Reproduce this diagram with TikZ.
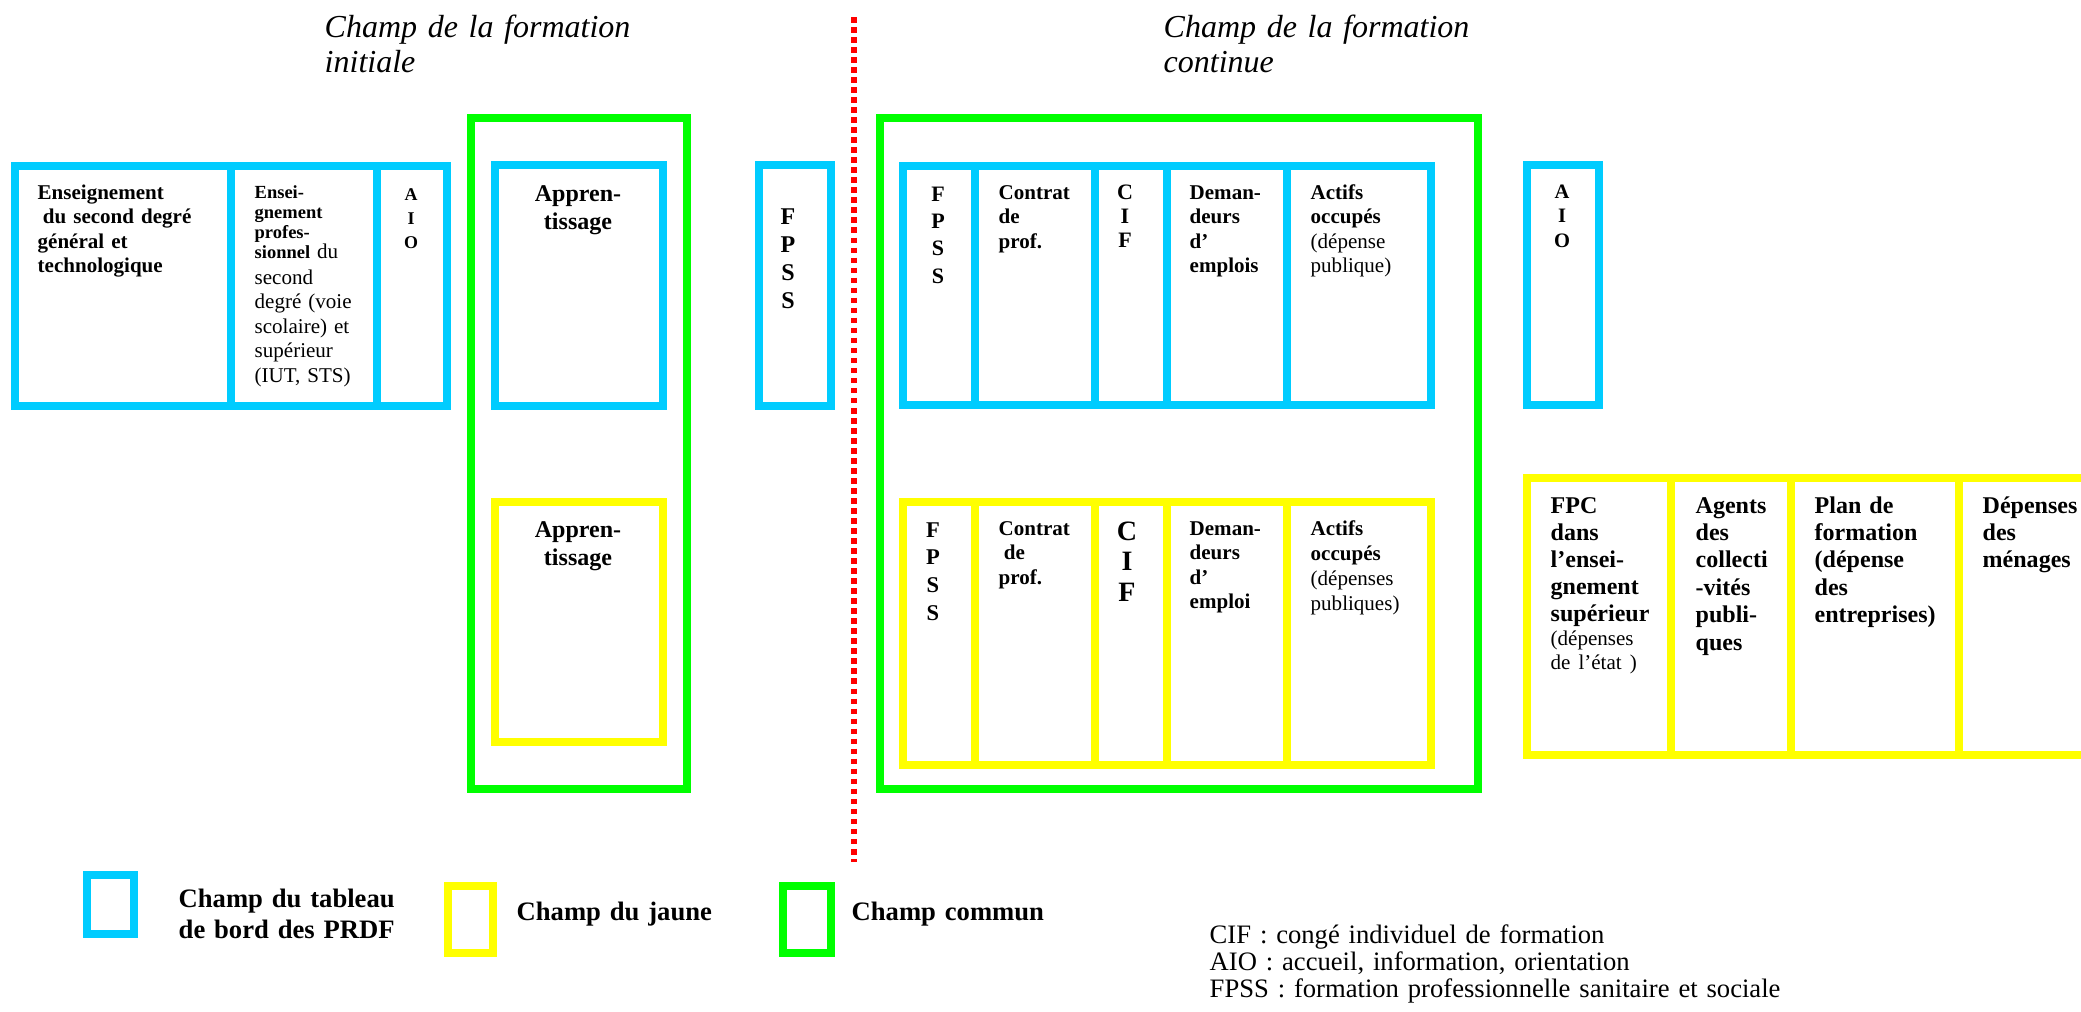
\documentclass[tikz,border=0pt]{standalone}
\usepackage{fontspec}
\setmainfont{Liberation Serif}
\definecolor{bleuprdf}{HTML}{00CCFF}
\definecolor{jaune}{HTML}{FFFF00}
\definecolor{vert}{HTML}{00FF00}
\definecolor{rouge}{HTML}{FF0000}
\newcommand{\fs}[2]{\fontsize{#1}{#2}\selectfont}
\begin{document}
\begin{tikzpicture}[x=0.01cm,y=-0.01cm,
    bleu/.style={draw=bleuprdf,line width=2.2pt},
    jaunebox/.style={draw=jaune,line width=2.3pt},
    vertbox/.style={draw=vert,line width=2.3pt},
    pointille/.style={draw=rouge,line width=1.7pt,dash pattern=on 1.6pt off 1.25pt},
    cell/.style={anchor=base west,inner sep=0pt,text width=3cm,align=left,font=\fs{5.98}{6.97}\bfseries},
    lettres/.style={anchor=base,inner sep=0pt,text width=1cm,align=center,font=\fs{6.26}{7.8}\bfseries},
    titre/.style={anchor=base west,inner sep=0pt,text width=5cm,align=left,font=\fs{9.1}{9.96}\itshape},
    legende/.style={anchor=base west,inner sep=0pt,text width=4cm,align=left,font=\fs{7.57}{8.82}\bfseries}]
  \path[use as bounding box,clip] (0,0) rectangle (2081,1011);
  \draw[pointille] (854,17) -- (854,862);
  \node[titre] (titreinit) at (324,37) {Champ de la formation\\initiale};
  \node[titre] (titrecont) at (1163,37) {Champ de la formation\\continue};

  \draw[bleu] (15,166) rectangle (447,406);
  \draw[bleu] (231,166) -- (231,406);
  \draw[bleu] (377,166) -- (377,406);
  \node[cell] (ensgen) at (37,199) {Enseignement\\\hspace*{1.5pt}du second degré\\général et\\technologique};
  \node[cell,font=\fs{5.98}{6.97}] (enspro) at (254,198) {{\fs{5.26}{5.7}\bfseries Ensei-}\\[-1.28pt]{\fs{5.26}{5.7}\bfseries gnement}\\[-1.28pt]{\fs{5.26}{5.7}\bfseries profes-}\\[-1.28pt]{\fs{5.26}{5.7}\bfseries sionnel} du\\[0.43pt]second\\degré (voie\\scolaire) et\\supérieur\\(IUT, STS)};
  \node[lettres,font=\fs{5.1}{6.83}\bfseries] (aioinit) at (411,200) {A\\I\\O};

  \draw[vertbox] (471,118) rectangle (687,789);
  \draw[bleu] (495,165) rectangle (663,406);
  \node[lettres,text width=2cm,font=\fs{6.83}{7.97}\bfseries] (apprbleu) at (578,201) {Appren-\\tissage};
  \draw[jaunebox] (495,502) rectangle (663,742);
  \node[lettres,text width=2cm,font=\fs{6.83}{7.97}\bfseries] (apprjaune) at (578,537) {Appren-\\tissage};

  \draw[bleu] (759,165) rectangle (831,406);
  \node[lettres,font=\fs{6.83}{7.97}\bfseries] (fpssseul) at (788,224) {F\\P\\S\\S};

  \draw[vertbox] (880,118) rectangle (1478,789);
  \draw[bleu] (903,166) rectangle (1431,405);
  \draw[bleu] (975,166) -- (975,405);
  \draw[bleu] (1095,166) -- (1095,405);
  \draw[bleu] (1167,166) -- (1167,405);
  \draw[bleu] (1287,166) -- (1287,405);
  \node[lettres] (fpssbleu) at (938,201) {F\\P\\S\\S};
  \node[cell] (contratbleu) at (998,199) {Contrat\\de\\prof.};
  \node[lettres,font=\fs{6.26}{6.83}\bfseries] (cifbleu) at (1125,199) {C\\I\\F};
  \node[cell] (demandbleu) at (1189,199) {Deman-\\deurs\\d’\\emplois};
  \node[cell] (actifsbleu) at (1310,199) {Actifs\\occupés\\\mdseries(dépense\\publique)};

  \draw[jaunebox] (903,502) rectangle (1431,765);
  \draw[jaunebox] (975,502) -- (975,765);
  \draw[jaunebox] (1095,502) -- (1095,765);
  \draw[jaunebox] (1167,502) -- (1167,765);
  \draw[jaunebox] (1287,502) -- (1287,765);
  \node[lettres,font=\fs{6.4}{7.87}\bfseries] (fpssjaune) at (933,537) {F\\P\\S\\S};
  \node[cell,font=\fs{5.98}{7.1}\bfseries] (contratjaune) at (998,535) {Contrat\\\hspace*{1.5pt}de\\prof.};
  \node[lettres,font=\fs{7.97}{8.68}\bfseries] (cifjaune) at (1127,540) {C\\I\\F};
  \node[cell,font=\fs{5.98}{7.0}\bfseries] (demandjaune) at (1189,535) {Deman-\\deurs\\d’\\emploi};
  \node[cell,font=\fs{5.98}{7.15}\bfseries] (actifsjaune) at (1310,535) {Actifs\\occupés\\\mdseries(dépenses\\publiques)};

  \draw[bleu] (1527,165) rectangle (1599,405);
  \node[lettres,font=\fs{5.83}{6.97}\bfseries] (aiocont) at (1562,198) {A\\I\\O};

  \draw[jaunebox] (1527,478) rectangle (2110,755);
  \draw[jaunebox] (1671,478) -- (1671,755);
  \draw[jaunebox] (1791,478) -- (1791,755);
  \draw[jaunebox] (1959,478) -- (1959,755);
  \node[cell,font=\fs{6.83}{7.68}\bfseries] (fpc) at (1550,513) {FPC\\dans\\l’ensei-\\gnement\\supérieur\\[-0.85pt]{\mdseries\fs{5.98}{6.83}(dépenses}\\[-0.85pt]{\mdseries\fs{5.98}{6.83}de l’état )}};
  \node[cell,font=\fs{6.83}{7.8}\bfseries] (agents) at (1695,513) {Agents\\des\\collecti\\-vités\\publi-\\ques};
  \node[cell,font=\fs{6.83}{7.8}\bfseries] (plan) at (1814,513) {Plan de\\formation\\(dépense\\des\\entreprises)};
  \node[cell,font=\fs{6.83}{7.8}\bfseries] (menages) at (1982,513) {Dépenses\\des\\ménages};

  \draw[bleu] (87,875) rectangle (134,934);
  \node[legende] (legbleu) at (178,907) {Champ du tableau\\de bord des PRDF};
  \draw[jaunebox] (448,886) rectangle (493,953);
  \node[legende] (legjaune) at (516,920) {Champ du jaune};
  \draw[vertbox] (783,886) rectangle (831,953);
  \node[legende] (legvert) at (851,920) {Champ commun};

  \node[legende,text width=8cm,font=\fs{7.57}{7.68}] (sigles) at (1209,943) {CIF : congé individuel de formation\\AIO : accueil, information, orientation\\FPSS : formation professionnelle sanitaire et sociale};
\end{tikzpicture}
\end{document}
